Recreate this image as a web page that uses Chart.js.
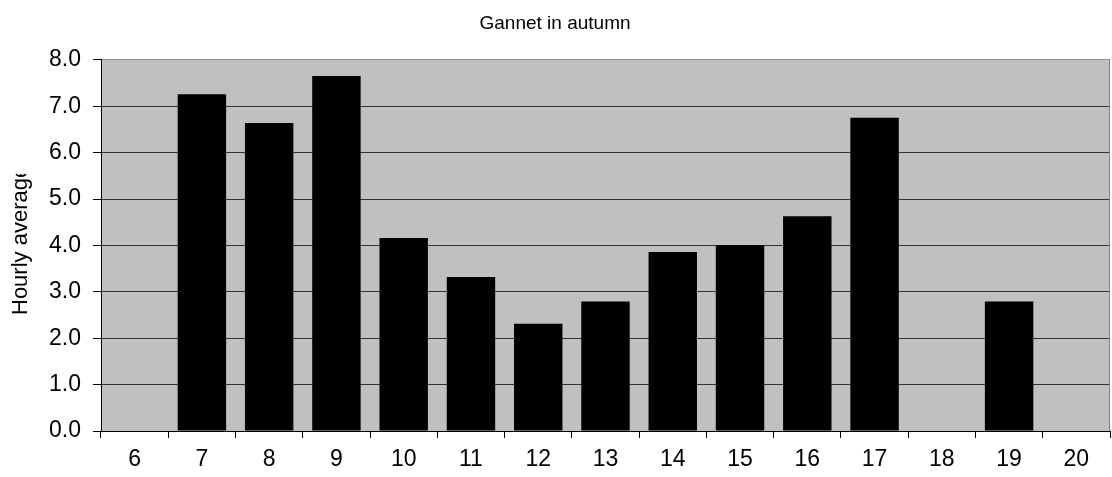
<!DOCTYPE html>
<html>
<head>
<meta charset="utf-8">
<script src="https://cdn.jsdelivr.net/npm/chart.js@4/dist/chart.umd.min.js"></script>
<style>
  html, body { margin: 0; padding: 0; background: #ffffff; }
  #wrap { width: 1112px; height: 477px; }
</style>
</head>
<body>
<div id="wrap"><canvas id="c" width="1112" height="477"></canvas></div>
<script>
const chartTitle = "Gannet in autumn";
const yAxisTitle = "Hourly average";
const hours = ["6", "7", "8", "9", "10", "11", "12", "13", "14", "15", "16", "17", "18", "19", "20"];
const hourlyAverage = [null, 7.26, 6.64, 7.65, 4.16, 3.32, 2.31, 2.79, 3.86, 4.01, 4.63, 6.75, null, 2.79, null];
const yMin = 0;
const yMax = 8;
const yStep = 1;

const FONT = "'Liberation Sans', Arial, sans-serif";

const plotDecor = {
  id: 'plotDecor',
  beforeDraw(chart) {
    const a = chart.chartArea, ctx = chart.ctx;
    ctx.save();
    ctx.fillStyle = '#C0C0C0';
    ctx.fillRect(a.left, a.top, a.right - a.left, a.bottom - a.top);
    ctx.restore();
  },
  afterDraw(chart) {
    const a = chart.chartArea, ctx = chart.ctx;
    ctx.save();
    ctx.strokeStyle = '#808080';
    ctx.lineWidth = 1;
    ctx.beginPath();
    ctx.moveTo(a.right - 0.5, a.top);
    ctx.lineTo(a.right - 0.5, a.bottom);
    ctx.stroke();
    // y-axis title, clipped at the top as in the original
    ctx.beginPath();
    ctx.rect(0, 174, 60, 477 - 174);
    ctx.clip();
    ctx.translate(27, 315);
    ctx.rotate(-Math.PI / 2);
    ctx.font = "22px " + FONT;
    ctx.fillStyle = '#000';
    ctx.textAlign = 'left';
    ctx.textBaseline = 'alphabetic';
    ctx.fillText(yAxisTitle, 0, 0);
    ctx.restore();
  }
};

new Chart(document.getElementById('c'), {
  type: 'bar',
  data: {
    labels: hours,
    datasets: [{
      data: hourlyAverage,
      backgroundColor: '#000000',
      borderWidth: 0,
      categoryPercentage: 1.0,
      barPercentage: 0.72
    }]
  },
  options: {
    responsive: false,
    animation: false,
    layout: { padding: { left: 0, right: 2, top: 0, bottom: 0 } },
    plugins: {
      legend: { display: false },
      tooltip: { enabled: false },
      title: {
        display: true,
        text: chartTitle,
        color: '#000',
        font: { family: FONT, size: 19, weight: 'normal' },
        padding: { top: 12, bottom: 25 }
      }
    },
    scales: {
      x: {
        offset: true,
        grid: {
          offset: true,
          drawOnChartArea: false,
          drawTicks: true,
          tickLength: 7,
          tickColor: '#000'
        },
        border: { color: '#000', width: 1 },
        ticks: {
          color: '#000',
          font: { family: FONT, size: 23 },
          padding: 8,
          maxRotation: 0,
          autoSkip: false
        },
        afterFit(scale) { scale.height = 46; }
      },
      y: {
        min: yMin,
        max: yMax,
        grid: {
          color: (ctx) => (ctx.tick && ctx.tick.value === yMax) ? '#909090' : '#333333',
          lineWidth: 1,
          drawTicks: true,
          tickLength: 8,
          tickColor: '#000'
        },
        border: { color: '#000', width: 1 },
        ticks: {
          stepSize: yStep,
          color: '#000',
          font: { family: FONT, size: 23 },
          padding: 12,
          callback: (v) => Number(v).toFixed(1)
        },
        afterFit(scale) { scale.width = 101; }
      }
    }
  },
  plugins: [plotDecor]
});
</script>
</body>
</html>
